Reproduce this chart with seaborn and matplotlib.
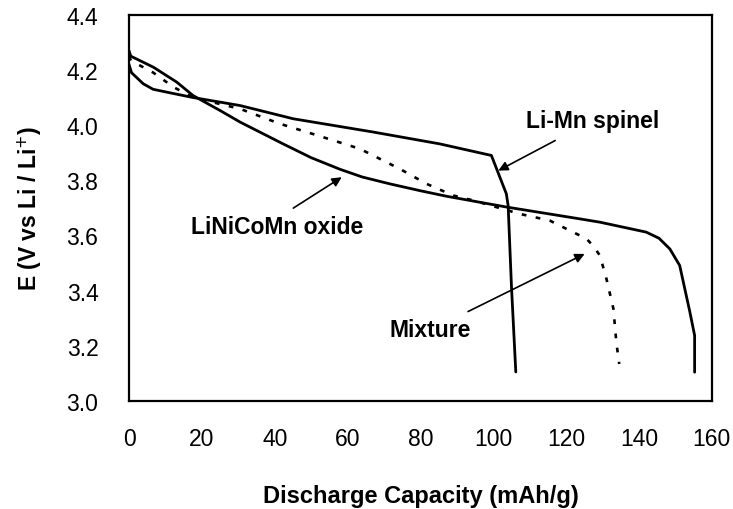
import matplotlib
matplotlib.use("Agg")
import matplotlib.pyplot as plt
import seaborn as sns
import pandas as pd

# Discharge curves: capacity (mAh/g) vs potential (V vs Li/Li+)
spinel_x = [0, 0.7, 3.9, 6.6, 11.3, 17.6, 30.5, 45.1, 67, 85.3, 99.5, 103.6, 104.1, 105.0, 106.2]
spinel_y = [4.22, 4.19, 4.15, 4.13, 4.117, 4.10, 4.071, 4.023, 3.975, 3.932, 3.89, 3.751, 3.708, 3.418, 3.105]

oxide_x = [0, 0.5, 6.7, 13.1, 17.6, 25, 30.5, 42.3, 50, 57.9, 64, 71.6, 80, 87.2, 103.6, 123.8, 129.3,
           142, 145.5, 148.5, 151.2, 154, 155.3, 155.3]
oxide_y = [4.27, 4.25, 4.21, 4.156, 4.107, 4.053, 4.011, 3.932, 3.882, 3.84, 3.812, 3.787, 3.762,
           3.742, 3.703, 3.66, 3.648, 3.612, 3.590, 3.551, 3.491, 3.322, 3.237, 3.104]

mixture_x = [0, 0.5, 6.7, 12.2, 17.6, 30.5, 41.4, 52.4, 63.4, 74.4, 81.7, 89, 94.5, 107.3, 115.5,
             121.9, 125.6, 127.4, 129.3, 131.1, 133, 133.8, 134.6]
mixture_y = [4.25, 4.234, 4.19, 4.138, 4.10, 4.059, 4.005, 3.96, 3.914, 3.841, 3.787, 3.745, 3.727,
             3.678, 3.654, 3.612, 3.588, 3.563, 3.527, 3.442, 3.334, 3.213, 3.134]

x_ticks = [0, 20, 40, 60, 80, 100, 120, 140, 160]
y_ticks = [3.0, 3.2, 3.4, 3.6, 3.8, 4.0, 4.2, 4.4]

df = pd.concat([
    pd.DataFrame({"cap": spinel_x, "E": spinel_y, "sample": "Li-Mn spinel"}),
    pd.DataFrame({"cap": oxide_x, "E": oxide_y, "sample": "LiNiCoMn oxide"}),
    pd.DataFrame({"cap": mixture_x, "E": mixture_y, "sample": "Mixture"}),
], ignore_index=True)

sns.set_theme(style="white")
plt.rcParams["font.family"] = ["Liberation Sans", "DejaVu Sans"]
plt.rcParams["text.color"] = "black"
plt.rcParams["axes.labelcolor"] = "black"

fig = plt.figure(figsize=(7.33, 5.10), dpi=100)
ax = fig.add_axes([0.176, 0.212, 0.795, 0.757])

sns.lineplot(data=df[df["sample"] == "Li-Mn spinel"], x="cap", y="E", sort=False,
             color="black", lw=2.0, ax=ax, estimator=None)
sns.lineplot(data=df[df["sample"] == "LiNiCoMn oxide"], x="cap", y="E", sort=False,
             color="black", lw=2.0, ax=ax, estimator=None)
sns.lineplot(data=df[df["sample"] == "Mixture"], x="cap", y="E", sort=False,
             color="black", lw=1.9, ax=ax, estimator=None, linestyle=(0, (1.8, 3.6)))

ax.set_xlim(0, 160)
ax.set_ylim(3.0, 4.4)
ax.set_xticks(x_ticks)
ax.set_xticklabels([str(v) for v in x_ticks])
ax.set_yticks(y_ticks)
ax.set_yticklabels([f"{v:.1f}" for v in y_ticks])
ax.tick_params(axis="x", direction="in", length=6, width=1.2, pad=19, labelsize=16.5, colors="black")
ax.tick_params(axis="y", direction="in", length=7, width=1.2, pad=22, labelsize=16.5, colors="black")
for s in ax.spines.values():
    s.set_color("black")
    s.set_linewidth(1.6)

ax.set_xlabel("Discharge Capacity (mAh/g)", fontsize=17, fontweight="bold", labelpad=24)
ax.set_ylabel("E (V vs Li / Li$^{+}$)", fontsize=16.5, fontweight="bold", labelpad=16)

arrow = dict(arrowstyle="-|>", lw=1.2, color="black", mutation_scale=14, shrinkA=0, shrinkB=0)
# arrows from each label towards its curve
ax.annotate("", xy=(101.4, 3.835), xytext=(117.0, 3.944), arrowprops=arrow)
ax.annotate("", xy=(125.1, 3.533), xytext=(93.1, 3.324), arrowprops=arrow)
ax.annotate("", xy=(58.4, 3.811), xytext=(45.1, 3.699), arrowprops=arrow)

ax.text(127.3, 4.016, "Li-Mn spinel", fontsize=16.5, fontweight="bold", ha="center", va="center")
ax.text(82.6, 3.258, "Mixture", fontsize=16.5, fontweight="bold", ha="center", va="center")
ax.text(40.8, 3.631, "LiNiCoMn oxide", fontsize=16.5, fontweight="bold", ha="center", va="center")

fig.savefig("out.png", dpi=100)
